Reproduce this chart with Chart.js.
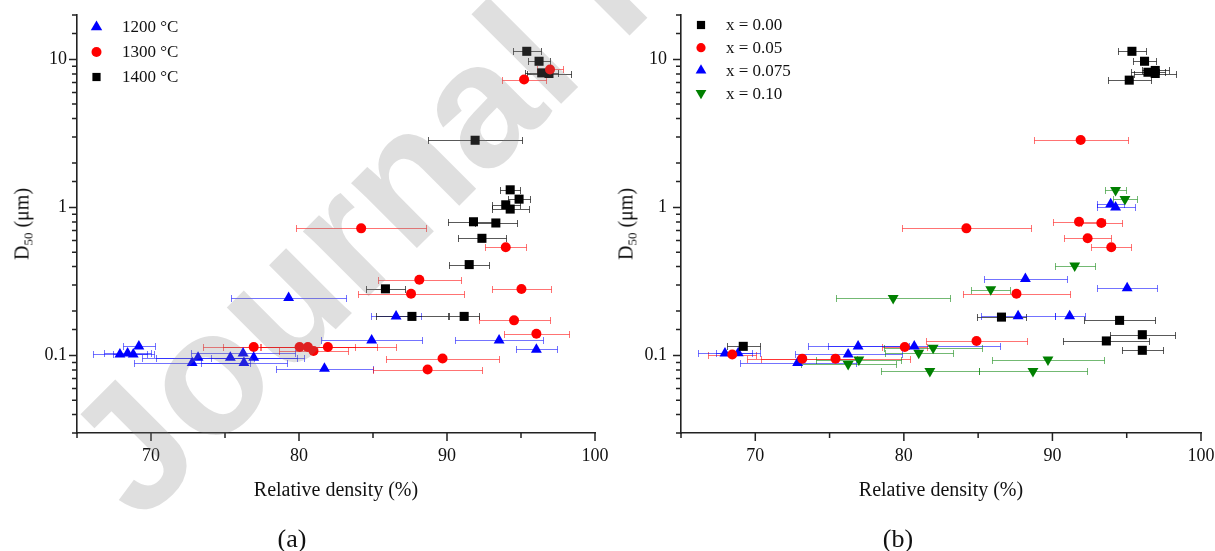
<!DOCTYPE html>
<html>
<head>
<meta charset="utf-8">
<script src="https://cdn.jsdelivr.net/npm/chart.js@4.4.1/dist/chart.umd.min.js"></script>
<style>
body { margin: 0; background: #fff; }
#wrap { position: relative; width: 1215px; height: 551px; overflow: hidden; font-family: 'Liberation Serif', 'Times New Roman', serif; color: #111; }
canvas { position: absolute; top: 0; }
#ca { left: 0; }
#cb { left: 607px; }
.ytitle { position: absolute; top: 224px; font-size: 20px; white-space: nowrap; transform: translate(-50%, -50%) rotate(-90deg); }
.ytitle span { font-size: 13px; position: relative; top: 4px; }
.xtitle { position: absolute; top: 489px; font-size: 20px; white-space: nowrap; transform: translate(-50%, -50%); }
.panel { position: absolute; top: 539px; font-size: 26px; transform: translate(-50%, -50%); }
#mark { position: absolute; left: 140px; top: 525px; font-family: 'Liberation Sans', Arial, sans-serif; font-weight: bold; font-size: 175px; line-height: 175px; white-space: nowrap; color: rgba(128,128,128,0.25); transform-origin: 0 0; transform: rotate(-45deg) translate(0, -148px); pointer-events: none; }
</style>
</head>
<body>
<div id="wrap">
	<canvas id="ca" width="608" height="551"></canvas>
	<canvas id="cb" width="607" height="551"></canvas>
	<div class="ytitle" style="left:22px">D<span>50</span> (μm)</div>
	<div class="ytitle" style="left:626px">D<span>50</span> (μm)</div>
	<div class="xtitle" style="left:336px">Relative density (%)</div>
	<div class="xtitle" style="left:941px">Relative density (%)</div>
	<div class="panel" style="left:292px">(a)</div>
	<div class="panel" style="left:898px">(b)</div>
	<div id="mark">Journal Pre-proof</div>
</div>
<script>
// tick labels
const xTickLabels = [70, 80, 90, 100];
const yTickLabels = [0.1, 1, 10];

// (a) by sintering temperature
const t1200X = [67.90, 68.42, 68.80, 69.18, 72.78, 73.18, 75.36, 76.22, 76.94, 76.28, 79.30, 81.72, 84.91, 86.56, 93.52, 96.04];
const t1200Y = [0.102, 0.1035, 0.102, 0.1155, 0.0893, 0.097, 0.097, 0.1035, 0.097, 0.0893, 0.246, 0.0818, 0.127, 0.184, 0.127, 0.110];
const t1200Err = [1.8, 1.6, 1.4, 1.07, 3.9, 3.8, 5.0, 3.5, 2.9, 2.9, 3.9, 3.3, 3.4, 1.7, 2.95, 1.4];

const t1300X = [76.94, 80.04, 80.60, 80.98, 81.95, 84.20, 88.69, 89.70, 87.57, 88.13, 93.97, 94.53, 95.03, 96.04, 95.21, 96.96];
const t1300Y = [0.1144, 0.1144, 0.1144, 0.1076, 0.1144, 0.724, 0.0805, 0.0955, 0.262, 0.325, 0.540, 0.173, 0.282, 0.1405, 7.33, 8.57];
const t1300Err = [3.4, 5.2, 3.2, 2.3, 4.6, 4.4, 3.7, 3.8, 3.6, 2.8, 1.4, 2.4, 2.0, 2.2, 1.5, 0.88];

const t1400X = [95.39, 96.22, 96.40, 96.89, 91.90, 94.27, 94.87, 93.97, 94.27, 91.79, 93.30, 92.36, 91.50, 85.84, 87.63, 91.16];
const t1400Y = [11.37, 9.74, 8.13, 8.05, 2.85, 1.318, 1.14, 1.044, 0.977, 0.802, 0.787, 0.620, 0.412, 0.2825, 0.184, 0.184];
const t1400Err = [0.95, 0.75, 1.1, 1.5, 3.17, 0.67, 0.75, 0.95, 1.26, 1.75, 1.4, 1.6, 1.37, 1.3, 2.45, 1.0];

// (b) by composition
const x000X = [95.35, 96.20, 96.43, 96.92, 96.92, 95.17, 86.57, 94.52, 96.05, 93.63, 96.05, 69.19];
const x000Y = [11.37, 9.74, 8.21, 8.44, 8.05, 7.26, 0.182, 0.173, 0.1384, 0.1256, 0.1086, 0.1155];
const x000Err = [0.93, 0.75, 1.12, 0.92, 1.4, 1.45, 1.68, 2.4, 2.2, 2.9, 1.38, 1.1];

const x005X = [91.90, 91.79, 93.29, 84.21, 92.37, 93.96, 87.58, 84.89, 80.06, 68.45, 73.16, 75.40];
const x005Y = [2.86, 0.802, 0.787, 0.724, 0.620, 0.540, 0.262, 0.1256, 0.1144, 0.1016, 0.0954, 0.0954];
const x005Err = [3.17, 1.75, 1.39, 4.35, 1.6, 1.35, 3.58, 3.37, 1.5, 1.6, 3.7, 5.0];

const x0075X = [67.96, 68.85, 72.85, 76.25, 76.92, 80.70, 88.18, 95.03, 87.69, 91.16, 93.92, 94.25];
const x0075Y = [0.1035, 0.104, 0.0893, 0.102, 0.1155, 0.1155, 0.330, 0.2857, 0.185, 0.185, 1.056, 1.003];
const x0075Err = [1.84, 1.5, 3.9, 3.6, 3.4, 5.8, 2.8, 2.0, 2.47, 1.0, 0.9, 1.28];

const x010X = [94.25, 94.88, 91.50, 85.85, 89.70, 88.69, 81.75, 81.00, 81.97, 79.28, 76.25, 76.97];
const x010Y = [1.311, 1.14, 0.405, 0.2796, 0.094, 0.0784, 0.0784, 0.1043, 0.1127, 0.2446, 0.0874, 0.094];
const x010Err = [0.7, 0.78, 1.35, 1.31, 3.8, 3.65, 3.3, 2.3, 3.3, 3.85, 3.2, 2.86];

const serif = 'Liberation Serif';

function pts(xs, ys) {
	return xs.map((x, i) => ({x: x, y: ys[i]}));
}

function series(label, xs, ys, errs, color, errColor, style, radius, legendRadius, rotation) {
	return {
		label: label,
		data: pts(xs, ys),
		xErr: errs,
		errColor: errColor,
		backgroundColor: color,
		borderColor: color,
		borderWidth: 0,
		pointStyle: style,
		pointRadius: radius,
		rotation: rotation || 0,
		legendRadius: legendRadius
	};
}

// horizontal error bars with caps, under the markers
const errorBars = {
	id: 'errorBars',
	beforeDatasetsDraw(chart) {
		const ctx = chart.ctx, xs = chart.scales.x, ys = chart.scales.y;
		ctx.save();
		ctx.lineWidth = 1;
		chart.data.datasets.forEach((ds) => {
			ctx.strokeStyle = ds.errColor;
			ds.data.forEach((p, i) => {
				const e = ds.xErr[i];
				const x0 = Math.round(xs.getPixelForValue(p.x - e)) + 0.5;
				const x1 = Math.round(xs.getPixelForValue(p.x + e)) + 0.5;
				const y = Math.round(ys.getPixelForValue(p.y)) + 0.5;
				ctx.beginPath();
				ctx.moveTo(x0, y); ctx.lineTo(x1, y);
				ctx.moveTo(x0, y - 3.5); ctx.lineTo(x0, y + 3.5);
				ctx.moveTo(x1, y - 3.5); ctx.lineTo(x1, y + 3.5);
				ctx.stroke();
			});
		});
		ctx.restore();
	}
};

// outward tick marks, long on labelled values
const axisTicks = {
	id: 'axisTicks',
	afterDraw(chart) {
		const ctx = chart.ctx, xs = chart.scales.x, ys = chart.scales.y;
		ctx.save();
		ctx.strokeStyle = '#222';
		ctx.lineWidth = 1.5;
		ctx.beginPath();
		xs.ticks.forEach((t) => {
			const px = xs.getPixelForValue(t.value);
			const len = xTickLabels.includes(t.value) ? 8 : 5;
			ctx.moveTo(px, xs.top); ctx.lineTo(px, xs.top + len);
		});
		ys.ticks.forEach((t) => {
			const py = ys.getPixelForValue(t.value);
			const l = Math.log10(t.value);
			const len = Math.abs(l - Math.round(l)) < 1e-6 ? 8 : 5;
			ctx.moveTo(ys.right, py); ctx.lineTo(ys.right - len, py);
		});
		ctx.stroke();
		ctx.restore();
	}
};

// legend in the top left corner of the plot
const cornerLegend = {
	id: 'cornerLegend',
	afterDraw(chart, args, opts) {
		const ctx = chart.ctx;
		ctx.save();
		ctx.font = '17px "' + serif + '"';
		ctx.textBaseline = 'middle';
		chart.data.datasets.forEach((ds, i) => {
			const y = opts.top + i * opts.step;
			ctx.fillStyle = ds.backgroundColor;
			ctx.strokeStyle = ds.backgroundColor;
			Chart.helpers.drawPoint(ctx, {pointStyle: ds.pointStyle, radius: ds.legendRadius, rotation: ds.rotation, borderWidth: 0}, opts.markX, y);
			ctx.fillStyle = '#111';
			ctx.fillText(ds.label, opts.textX, y + 1);
		});
		ctx.restore();
	}
};

function drawPanel(id, datasets, yWidth, labelPad, legend) {
	return new Chart(document.getElementById(id), {
		type: 'scatter',
		data: {datasets: datasets},
		plugins: [errorBars, axisTicks, cornerLegend],
		options: {
			responsive: false,
			animation: false,
			events: [],
			layout: {padding: {left: 0, right: 13, top: 15, bottom: 0}},
			scales: {
				x: {
					type: 'linear', min: 65, max: 100,
					grid: {display: false, drawTicks: false},
					border: {display: true, color: '#222', width: 1.6},
					ticks: {
						stepSize: 5, autoSkip: false, maxRotation: 0, padding: 12,
						color: '#111', font: {family: serif, size: 18},
						callback: (v) => xTickLabels.includes(v) ? String(v) : ''
					},
					afterFit: (s) => { s.height = 118; s.paddingLeft = 0; s.paddingRight = 0; }
				},
				y: {
					type: 'logarithmic', min: 0.03, max: 20,
					grid: {display: false, drawTicks: false},
					border: {display: true, color: '#222', width: 1.6},
					ticks: {
						autoSkip: false, padding: labelPad,
						color: '#111', font: {family: serif, size: 18},
						callback: (v) => yTickLabels.some((t) => Math.abs(t - v) < 1e-9) ? String(v) : ''
					},
					afterFit: (s) => { s.width = yWidth; s.paddingTop = 0; s.paddingBottom = 0; }
				}
			},
			plugins: {
				legend: {display: false},
				tooltip: {enabled: false},
				cornerLegend: legend
			}
		}
	});
}

document.addEventListener('DOMContentLoaded', () => {
	drawPanel('ca', [
		series('1200 °C', t1200X, t1200Y, t1200Err, '#0000ff', 'rgba(0,0,255,0.55)', 'triangle', 6.3, 6.6),
		series('1300 °C', t1300X, t1300Y, t1300Err, '#ff0000', 'rgba(255,0,0,0.55)', 'circle', 5, 5),
		series('1400 °C', t1400X, t1400Y, t1400Err, '#000000', 'rgba(0,0,0,0.65)', 'rect', 6.4, 5.8)
	], 77, 10, {markX: 96.5, textX: 122, top: 27, step: 25});

	drawPanel('cb', [
		series('x = 0.00', x000X, x000Y, x000Err, '#000000', 'rgba(0,0,0,0.65)', 'rect', 6.4, 5.8),
		series('x = 0.05', x005X, x005Y, x005Err, '#ff0000', 'rgba(255,0,0,0.55)', 'circle', 5, 4.6),
		series('x = 0.075', x0075X, x0075Y, x0075Err, '#0000ff', 'rgba(0,0,255,0.55)', 'triangle', 6.3, 6.2),
		series('x = 0.10', x010X, x010Y, x010Err, '#008000', 'rgba(0,128,0,0.55)', 'triangle', 6.3, 6.2, 180)
	], 74, 14, {markX: 94, textX: 119, top: 25, step: 22.7});
});
</script>
</body>
</html>
